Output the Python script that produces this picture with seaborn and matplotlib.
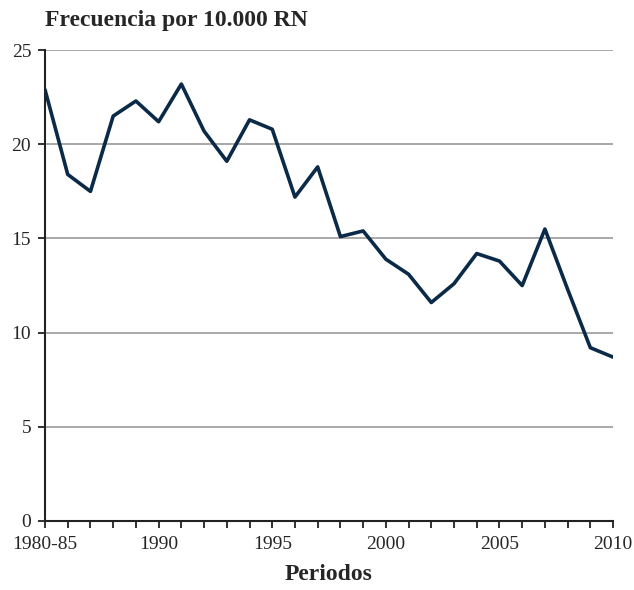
import pandas as pd
import numpy as np
import matplotlib.pyplot as plt
import seaborn as sns
from matplotlib.ticker import MultipleLocator

# Datos
years = list(range(1985, 2011))
freq = [22.9, 18.4, 17.5, 21.5, 22.3, 21.2, 23.2, 20.7, 19.1, 21.3,
        20.8, 17.2, 18.8, 15.1, 15.4, 13.9, 13.1, 11.6, 12.6, 14.2,
        13.8, 12.5, 15.5, 12.3, 9.2, 8.7]
tick_years = [1985, 1990, 1995, 2000, 2005, 2010]
tick_labels = ["1980-85", "1990", "1995", "2000", "2005", "2010"]

df = pd.DataFrame({"periodo": years, "frecuencia": freq})

sns.set_style("white")
plt.rcParams['font.family'] = ['Liberation Serif', 'DejaVu Serif']

fig, ax = plt.subplots(figsize=(6.34, 5.9), dpi=100)
fig.subplots_adjust(left=0.071, right=0.967, bottom=0.117, top=0.915)

sns.lineplot(data=df, x="periodo", y="frecuencia", ax=ax,
             color="#0b2a48", linewidth=2.6)

ax.set_xlim(1985, 2010)
ax.set_ylim(0, 25)
ax.yaxis.set_major_locator(MultipleLocator(5))
ax.set_xticks(tick_years)
ax.set_xticklabels(tick_labels)
ax.xaxis.set_minor_locator(MultipleLocator(1))

ax.grid(axis="y", color="#9a9a9a", linewidth=1.2)
ax.set_axisbelow(True)
for s in ["top", "right"]:
    ax.spines[s].set_visible(False)
for s in ["left", "bottom"]:
    ax.spines[s].set_color("#222222")
    ax.spines[s].set_linewidth(1.5)

ax.tick_params(axis="both", which="both", direction="out", length=5,
               width=1.3, color="#222222", labelsize=14, pad=5,
               bottom=True, left=True)
ax.tick_params(axis="x", which="both", pad=6)
ax.tick_params(axis="x", which="minor", length=5, bottom=True)

ax.set_xlabel("Periodos", fontsize=17, fontweight="bold", labelpad=8)
ax.set_ylabel("")
fig.text(0.071, 0.966, "Frecuencia por 10.000 RN", fontsize=17,
         fontweight="bold", ha="left", va="center")

plt.savefig("out.png", dpi=100)
